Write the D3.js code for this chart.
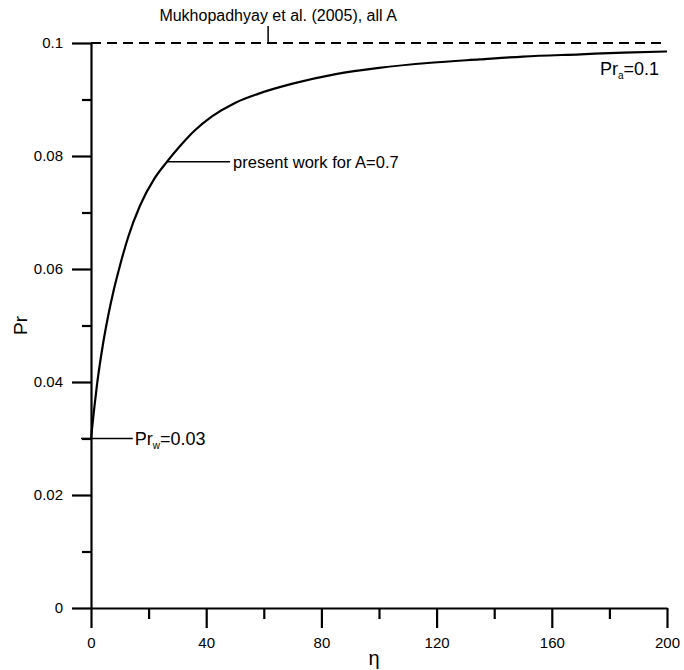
<!DOCTYPE html>
<html>
<head>
<meta charset="utf-8">
<script src="https://cdn.jsdelivr.net/npm/d3@7"></script>
<style>
  body { margin: 0; background: #fff; }
  svg text { font-family: "Liberation Sans", Arial, sans-serif; fill: #000; }
</style>
</head>
<body>
<div id="chart"></div>
<script>
// curve (eta, Pr)
var eta = [0, 1, 2, 4, 6, 8, 10, 13, 17, 22, 26.4, 31, 36, 42, 50, 58, 70, 85, 100, 118, 135, 150, 170, 185, 200];
var pr  = [0.030, 0.0348, 0.0392, 0.0462, 0.0518, 0.0565, 0.0605, 0.0658, 0.0712, 0.0760, 0.0790, 0.0818,
           0.0845, 0.0870, 0.0894, 0.0910, 0.0928, 0.0945, 0.0956, 0.0965, 0.0971, 0.0976, 0.0980, 0.0983, 0.0985];

var prAmbient = 0.1;   // Mukhopadhyay et al. line
var prWall = 0.03;

var xTicks = [0, 40, 80, 120, 160, 200];
var xMinor = [20, 60, 100, 140, 180];
var yTicks = [0, 0.02, 0.04, 0.06, 0.08, 0.1];
var yTickLabels = ["0", "0.02", "0.04", "0.06", "0.08", "0.1"];
var yMinor = [0.01, 0.03, 0.05, 0.07, 0.09];

var W = 684, H = 670;
var margin = {top: 43, right: 17, bottom: 62, left: 91};

var svg = d3.select("#chart").append("svg")
    .attr("width", W)
    .attr("height", H);

var x = d3.scaleLinear().domain([0, 200]).range([margin.left, W - margin.right]);
var y = d3.scaleLinear().domain([0, 0.1]).range([H - margin.bottom, margin.top]);

// minor ticks first so the main axes sit on top
svg.append("g")
    .attr("transform", "translate(0," + y(0) + ")")
    .call(d3.axisBottom(x).tickValues(xMinor).tickSize(11).tickSizeOuter(0).tickFormat(""))
    .call(function(g) { g.select(".domain").remove(); });

svg.append("g")
    .attr("transform", "translate(" + x(0) + ",0)")
    .call(d3.axisLeft(y).tickValues(yMinor).tickSize(9).tickSizeOuter(0).tickFormat(""))
    .call(function(g) { g.select(".domain").remove(); });

var xAxis = svg.append("g")
    .attr("transform", "translate(0," + y(0) + ")")
    .call(d3.axisBottom(x).tickValues(xTicks).tickSize(20).tickSizeOuter(0).tickPadding(9));
xAxis.selectAll("text").attr("font-size", 15);

var yAxis = svg.append("g")
    .attr("transform", "translate(" + x(0) + ",0)")
    .call(d3.axisLeft(y).tickValues(yTicks).tickSize(19).tickSizeOuter(0).tickPadding(9)
          .tickFormat(function(d, i) { return yTickLabels[i]; }));
yAxis.selectAll("text").attr("font-size", 15);

svg.selectAll(".domain, .tick line")
    .attr("stroke", "#000")
    .attr("stroke-width", 2.2);

// dashed reference line
svg.append("line")
    .attr("x1", x(0)).attr("x2", x(200))
    .attr("y1", y(prAmbient)).attr("y2", y(prAmbient))
    .attr("stroke", "#000")
    .attr("stroke-width", 2)
    .attr("stroke-dasharray", "10,6");

// the curve
var line = d3.line()
    .curve(d3.curveMonotoneX)
    .x(function(d, i) { return x(eta[i]); })
    .y(function(d) { return y(d); });

svg.append("path")
    .datum(pr)
    .attr("d", line)
    .attr("fill", "none")
    .attr("stroke", "#000")
    .attr("stroke-width", 2.2);

// annotations
function leader(x1, y1, x2, y2) {
    svg.append("line")
        .attr("x1", x1).attr("y1", y1).attr("x2", x2).attr("y2", y2)
        .attr("stroke", "#000").attr("stroke-width", 1.5);
}

leader(x(61.5), y(prAmbient), x(61.5), y(prAmbient) - 17);
svg.append("text")
    .attr("x", x(61.5) + 10).attr("y", 21)
    .attr("text-anchor", "middle")
    .attr("font-size", 16)
    .text("Mukhopadhyay et al. (2005), all A");

leader(x(26.4), y(0.0790), x(48.3), y(0.0790));
svg.append("text")
    .attr("x", x(48.3) + 3).attr("y", y(0.0790) + 6)
    .attr("font-size", 16.5)
    .text("present work for A=0.7");

leader(x(0) - 10, y(prWall), x(14.5), y(prWall));
var tw = svg.append("text")
    .attr("x", x(14.5) + 2).attr("y", y(prWall) + 6.5)
    .attr("font-size", 18);
tw.append("tspan").text("Pr");
tw.append("tspan").attr("font-size", 10).attr("dy", 4).text("w");
tw.append("tspan").attr("dy", -4).text("=0.03");

var ta = svg.append("text")
    .attr("x", 600).attr("y", 75)
    .attr("font-size", 18);
ta.append("tspan").text("Pr");
ta.append("tspan").attr("font-size", 10).attr("dy", 4).text("a");
ta.append("tspan").attr("dy", -4).text("=0.1");

// axis titles
svg.append("text")
    .attr("transform", "translate(27," + y(0.05) + ") rotate(-90)")
    .attr("text-anchor", "middle")
    .attr("font-size", 19)
    .text("Pr");

svg.append("text")
    .attr("x", 374).attr("y", 665)
    .attr("text-anchor", "middle")
    .attr("font-size", 20)
    .text("η");
</script>
</body>
</html>
